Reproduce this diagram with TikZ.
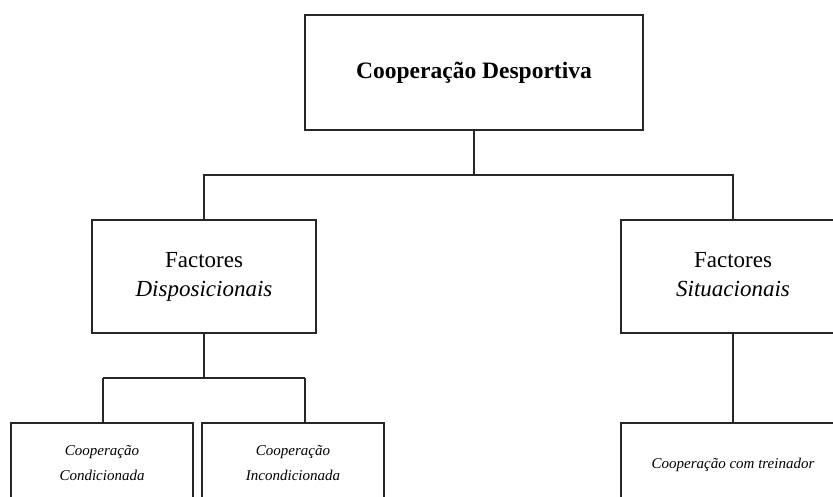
\documentclass[tikz,border=0pt]{standalone}
\usepackage{fontspec}
\setmainfont{Liberation Serif}
\newcommand{\lnstrut}{\vphantom{Fp}}
\begin{document}
\begin{tikzpicture}[x=1pt,y=1pt,
  box/.style={draw=black!85,line width=1.2pt,fill=white,inner sep=0pt,align=center,anchor=center},
  link/.style={draw=black!85,line width=1.2pt},
  lbl/.style={font=\fontsize{23}{29}\selectfont},
  sub/.style={font=\fontsize{15}{25}\selectfont\itshape}]
\useasboundingbox (0,0) rectangle (833,-496);
\clip (0,0) rectangle (833,-496);
% top level
\node[box,minimum width=338pt,minimum height=115pt,font=\fontsize{23.5}{28}\selectfont\bfseries]
  (root) at (474,-72.5) {Cooperação Desportiva};
% second level
\node[box,lbl,minimum width=224pt,minimum height=113pt] (disp) at (204,-276.5)
  {\lnstrut Factores\\ \lnstrut\textit{Disposicionais}};
\node[box,lbl,minimum width=224pt,minimum height=113pt] (sit) at (733,-276.5)
  {\lnstrut Factores\\ \lnstrut\textit{Situacionais}};
% third level
\node[box,sub,minimum width=182pt,minimum height=84pt] (cond) at (102,-465)
  {\lnstrut Cooperação\\ \lnstrut Condicionada};
\node[box,sub,minimum width=182pt,minimum height=84pt] (incond) at (293,-465)
  {\lnstrut Cooperação\\ \lnstrut Incondicionada};
\node[box,sub,minimum width=224pt,minimum height=84pt] (trein) at (733,-465)
  {Cooperação com treinador};
% connectors
\coordinate (j1) at (474,-175);
\coordinate (j2) at (204,-378);
\coordinate (c1) at (103,-378);
\coordinate (c2) at (305,-378);
\draw[link] (root.south) -- (j1);
\draw[link] (j1) -| (disp.north);
\draw[link] (j1) -| (sit.north);
\draw[link] (disp.south) -- (j2);
\draw[link] (c1) -- (c2);
\draw[link] (c1) -- (c1 |- cond.north);
\draw[link] (c2) -- (c2 |- incond.north);
\draw[link] (sit.south) -- (trein.north);
\end{tikzpicture}
\end{document}
